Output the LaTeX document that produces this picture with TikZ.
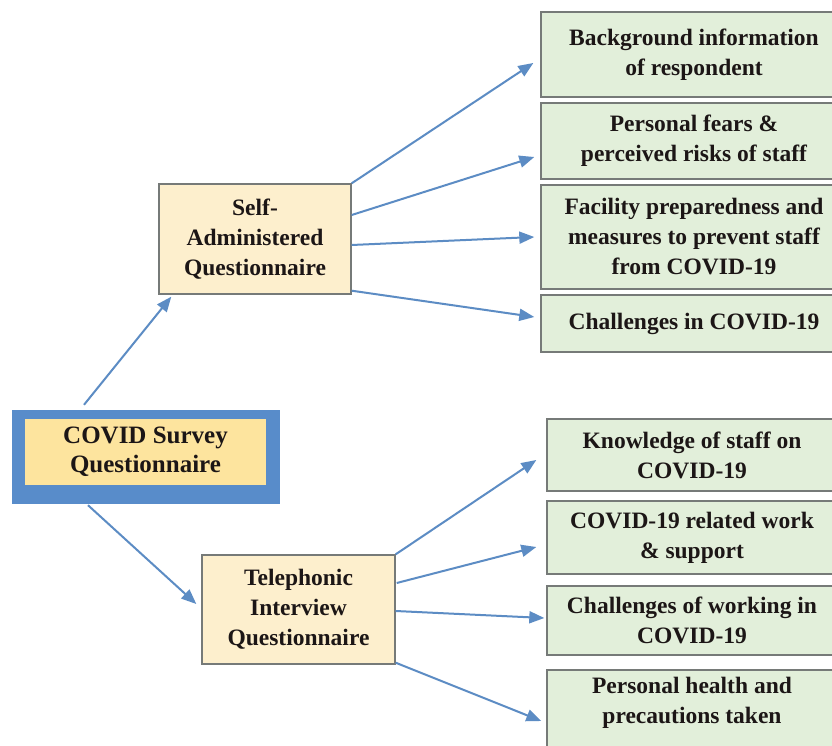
\documentclass[tikz,border=0pt]{standalone}
\usepackage{fontspec}
\setmainfont{Liberation Serif}
\usetikzlibrary{arrows.meta}
\definecolor{frameblue}{RGB}{88,140,202}
\definecolor{inneryellow}{RGB}{253,228,158}
\definecolor{cream}{RGB}{253,239,205}
\definecolor{greenfill}{RGB}{226,239,218}
\definecolor{bordergray}{RGB}{118,122,120}
\definecolor{arrowblue}{RGB}{92,140,196}
\definecolor{textblack}{RGB}{28,22,22}
\tikzset{
  txt/.style={font=\fontsize{23.5}{30}\selectfont\bfseries, text=textblack, align=center, inner sep=0pt},
  midbox/.style={txt, draw=bordergray, line width=1.4pt, fill=cream, rectangle},
  leafbox/.style={txt, draw=bordergray, line width=1.4pt, fill=greenfill, rectangle},
  arr/.style={draw=arrowblue, line width=2pt, -{Triangle[length=15pt,width=12pt]}}
}
\begin{document}
\begin{tikzpicture}[x=1pt,y=-1pt]
\clip (0,0) rectangle (832,746);
\fill[white] (0,0) rectangle (832,746);

% root
\node[rectangle, fill=frameblue, minimum width=268pt, minimum height=94pt, inner sep=0pt] (cov) at (146,457) {};
\node[rectangle, fill=inneryellow, minimum width=241pt, minimum height=66pt, txt, font=\fontsize{25}{29}\selectfont\bfseries] (covin) at (145.5,452) {COVID Survey\\Questionnaire};

% middle
\node[midbox, minimum width=192pt, minimum height=110pt] (self) at (255,239) {Self-\\Administered\\Questionnaire};
\node[midbox, minimum width=193pt, minimum height=109pt] (tel) at (298.5,609.5) {Telephonic\\Interview\\Questionnaire};

% leaves top
\node[leafbox, minimum width=306pt, minimum height=85pt] (b1) at (694,54.5) {Background information\\of respondent};
\node[leafbox, minimum width=306pt, minimum height=76pt] (b2) at (694,141) {Personal fears \&\\perceived risks of staff};
\node[leafbox, minimum width=306pt, minimum height=104pt] (b3) at (694,237) {Facility preparedness and\\measures to prevent staff\\from COVID-19};
\node[leafbox, minimum width=306pt, minimum height=57pt] (b4) at (694,323.5) {Challenges in COVID-19};

% leaves bottom
\node[leafbox, minimum width=290pt, minimum height=72pt] (b5) at (692,455) {Knowledge of staff on\\COVID-19};
\node[leafbox, minimum width=290pt, minimum height=73pt] (b6) at (692,537.5) {COVID-19 related work\\\& support};
\node[leafbox, minimum width=290pt, minimum height=69pt] (b7) at (692,620.5) {Challenges of working in\\COVID-19};
\node[leafbox, minimum width=290pt, minimum height=90pt] (b8) at (692,715) {};
\node[txt] (b8t) at (692,703) {Personal health and\\precautions taken};

% arrows root
\draw[arr] ([shift={(-62,-5)}]cov.north) -- ([shift={(13,2)}]self.south west);
\draw[arr] ([shift={(-58,1)}]cov.south) -- ([shift={(-5,-5.5)}]tel.west);

% arrows self
\draw[arr] (self.north east) -- ([shift={(-7,8.5)}]b1.west);
\draw[arr] ([shift={(0,-24)}]self.east) -- ([shift={(-6,16)}]b2.west);
\draw[arr] ([shift={(0,6)}]self.east) -- ([shift={(-6,0)}]b3.west);
\draw[arr] ([shift={(0,-4)}]self.south east) -- ([shift={(-6,-6.5)}]b4.west);

% arrows tel
\draw[arr] (tel.north east) -- ([shift={(-10,5)}]b5.west);
\draw[arr] ([shift={(1,-26.5)}]tel.east) -- ([shift={(-10,9.5)}]b6.west);
\draw[arr] ([shift={(0,1.5)}]tel.east) -- ([shift={(-2,-2.5)}]b7.west);
\draw[arr] ([shift={(0,-2)}]tel.south east) -- ([shift={(-5,6)}]b8.west);
\end{tikzpicture}
\end{document}
